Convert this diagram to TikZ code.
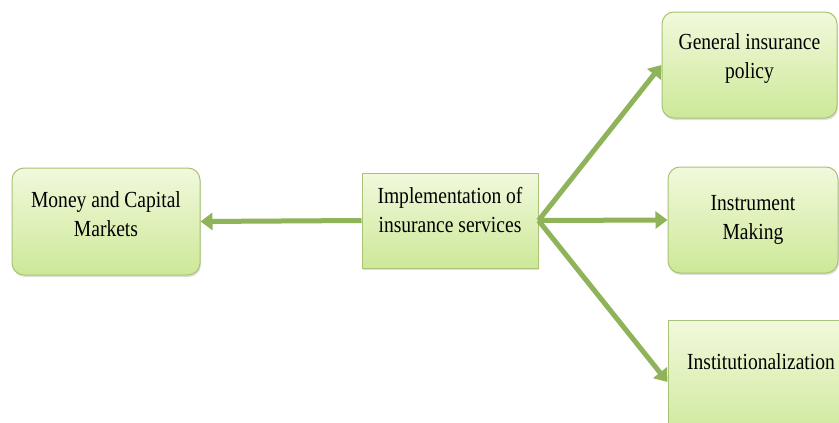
\documentclass[tikz,border=0pt]{standalone}
\usepackage{fontspec}
\setmainfont[FakeStretch=0.85]{Liberation Serif}
\usetikzlibrary{arrows.meta,shadows}
\definecolor{arrowgreen}{RGB}{143,179,88}
\definecolor{boxedge}{RGB}{168,195,118}
\definecolor{boxtop}{RGB}{241,249,220}
\definecolor{boxbot}{RGB}{205,232,152}
\begin{document}
\begin{tikzpicture}[x=1pt,y=-1pt,
  box/.style={draw=boxedge, line width=1pt, top color=boxtop, bottom color=boxbot,
    drop shadow={shadow xshift=1pt, shadow yshift=-2pt, opacity=0.25}, inner sep=0pt},
  rbox/.style={box, rounded corners=12pt},
  lbl/.style={font=\fontsize{23}{29}\selectfont, align=center, inner sep=0pt},
  conn/.style={draw=arrowgreen, line width=5pt, -{Triangle[width=17pt,length=12pt]}}]
\clip (0,0) rectangle (839,423);
\fill[white] (0,0) rectangle (839,423);
% boxes
\node[rbox, minimum width=188pt, minimum height=107pt] (money) at (106,221.5) {};
\node[box, minimum width=176pt, minimum height=95pt] (impl) at (450,220.5) {};
\node[rbox, minimum width=175pt, minimum height=106pt] (general) at (749.5,65) {};
\node[rbox, minimum width=170pt, minimum height=106pt] (instr) at (753,220) {};
\node[box, minimum width=180pt, minimum height=124pt] (inst) at (758,382) {};
% labels
\node[lbl] (moneyT) at (106,214) {Money and Capital\\Markets};
\node[lbl] (implT) at (450,210) {Implementation of\\insurance services};
\node[lbl] (generalT) at (749.5,59) {General insurance\\policy};
\node[lbl] (instrT) at (753,220) {Instrument\\Making};
\node[lbl] (instT) at (761,362) {Institutionalization};
% connectors
\draw[conn] (impl.west) -- (money.east);
\draw[conn] (impl.east) -- (general.west);
\draw[conn] (impl.east) -- (instr.west);
\draw[conn] (impl.east) -- (inst.west);
\end{tikzpicture}
\end{document}
